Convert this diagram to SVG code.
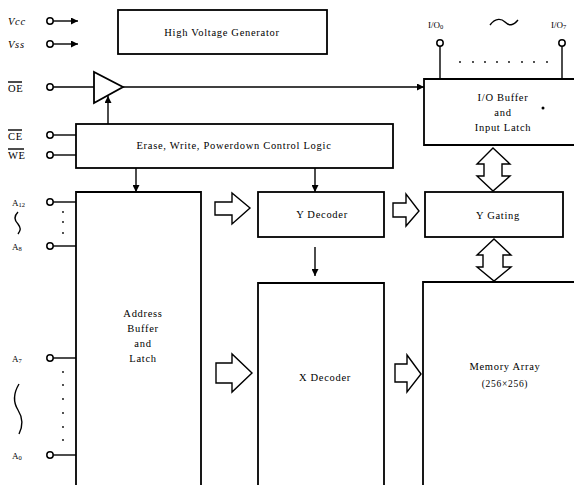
<svg xmlns="http://www.w3.org/2000/svg" width="574" height="485" viewBox="0 0 574 485">
<style>
.b{fill:none;stroke:#000;stroke-width:1.8}
.l{fill:none;stroke:#000;stroke-width:1.4}
.pin{fill:#fff;stroke:#000;stroke-width:1.5}
.t{font-family:"Liberation Serif",serif;font-size:10.5px;letter-spacing:0.7px;fill:#000}
.c{text-anchor:middle}
.it{font-style:italic}
.dot{fill:#000}
.ba{fill:#fff;stroke:#000;stroke-width:1.4;stroke-linejoin:miter}
</style>
<defs>
<marker id="ah" viewBox="0 0 10 10" refX="10" refY="5" markerWidth="7" markerHeight="7" markerUnits="userSpaceOnUse" orient="auto"><path d="M0,0 L10,5 L0,10 z" fill="#000"/></marker>
</defs>
<rect width="574" height="485" fill="#fff"/>

<g id="hvg"><rect class="b" x="118" y="10" width="209" height="44"/><text class="t c" x="222" y="36">High Voltage Generator</text></g>

<g id="ctrl"><rect class="b" x="76" y="124" width="317" height="44"/><text class="t c" x="234" y="149">Erase, Write, Powerdown Control Logic</text></g>

<g id="iobuf"><path class="b" d="M580,79 H424 V145 H580"/>
<text class="t c" x="503" y="101">I/O Buffer</text><text class="t c" x="503" y="116">and</text><text class="t c" x="503" y="131">Input Latch</text>
<circle class="dot" cx="543" cy="108" r="1.5"/></g>

<g id="addr"><path class="b" d="M76,490 V192 H201 V490"/>
<text class="t c" x="143" y="317">Address</text><text class="t c" x="143" y="332">Buffer</text><text class="t c" x="143" y="347">and</text><text class="t c" x="143" y="362">Latch</text></g>

<g id="ydec"><rect class="b" x="258" y="192" width="126" height="45"/><text class="t c" x="322" y="218">Y Decoder</text></g>

<g id="ygate"><rect class="b" x="425" y="192" width="138" height="45"/><text class="t c" x="498" y="219">Y Gating</text></g>

<g id="xdec"><path class="b" d="M258,490 V283 H384 V490"/><text class="t c" x="325" y="381">X Decoder</text></g>

<g id="mem"><path class="b" d="M423,490 V282 H580"/><text class="t c" x="505" y="370">Memory Array</text><text class="t c" x="505" y="387" style="font-size:9.5px">(256×256)</text></g>

<g id="buf"><path class="b" d="M94,72 L94,103 L123,87 Z" fill="#fff"/></g>

<g id="pins">
<text class="t it" x="8" y="25">Vcc</text>
<text class="t it" x="8" y="48">Vss</text>
<text class="t" x="8" y="92">OE</text><line class="l" x1="8" y1="82" x2="22" y2="82" stroke-width="1"/>
<text class="t" x="8" y="140">CE</text><line class="l" x1="8" y1="130" x2="22" y2="130" stroke-width="1"/>
<text class="t" x="8" y="159">WE</text><line class="l" x1="8" y1="149" x2="24" y2="149" stroke-width="1"/>
<text class="t" x="12" y="206" style="font-size:9px;letter-spacing:0">A<tspan font-size="6.5px" dy="1">12</tspan></text>
<text class="t" x="12" y="250" style="font-size:9px;letter-spacing:0">A<tspan font-size="6.5px" dy="1">8</tspan></text>
<text class="t" x="12" y="362" style="font-size:9px;letter-spacing:0">A<tspan font-size="6.5px" dy="1">7</tspan></text>
<text class="t" x="12" y="459" style="font-size:9px;letter-spacing:0">A<tspan font-size="6.5px" dy="1">0</tspan></text>
<text class="t" x="428" y="28" style="font-size:9px;letter-spacing:0">I/O<tspan font-size="6.5px" dy="1">0</tspan></text>
<text class="t" x="551" y="28" style="font-size:9px;letter-spacing:0">I/O<tspan font-size="6.5px" dy="1">7</tspan></text>
<path class="l" d="M18,212 C14,216 14,220 18,224 C21,228 21,230 18,234"/>
<path class="l" d="M19,384 C13,394 13,402 18,410 C23,418 23,426 19,434"/>
<path class="l" d="M490,25 C496,17 502,19 505,22 C509,26 513,26 518,20"/>
<g class="dot">
<circle cx="63" cy="212" r="0.9"/><circle cx="63" cy="222" r="0.9"/><circle cx="63" cy="233" r="0.9"/>
<circle cx="63" cy="372" r="0.9"/><circle cx="63" cy="385" r="0.9"/><circle cx="63" cy="399" r="0.9"/><circle cx="63" cy="413" r="0.9"/><circle cx="63" cy="427" r="0.9"/><circle cx="63" cy="440" r="0.9"/>
<circle cx="460" cy="62" r="0.9"/><circle cx="473" cy="62" r="0.9"/><circle cx="485" cy="62" r="0.9"/><circle cx="497" cy="62" r="0.9"/><circle cx="509" cy="62" r="0.9"/><circle cx="522" cy="62" r="0.9"/><circle cx="534" cy="62" r="0.9"/><circle cx="547" cy="62" r="0.9"/>
</g>
</g>

<g id="connectors">
<line class="l" x1="53" y1="21" x2="78" y2="21" marker-end="url(#ah)"/>
<line class="l" x1="53" y1="44" x2="78" y2="44" marker-end="url(#ah)"/>
<line class="l" x1="53" y1="87" x2="94" y2="87"/>
<line class="l" x1="123" y1="87" x2="424" y2="87" marker-end="url(#ah)"/>
<line class="l" x1="108" y1="124" x2="108" y2="96" marker-end="url(#ah)"/>
<line class="l" x1="53" y1="135" x2="76" y2="135"/>
<line class="l" x1="53" y1="155" x2="76" y2="155"/>
<line class="l" x1="53" y1="202" x2="76" y2="202"/>
<line class="l" x1="53" y1="246" x2="76" y2="246"/>
<line class="l" x1="53" y1="358" x2="76" y2="358"/>
<line class="l" x1="53" y1="455" x2="76" y2="455"/>
<line class="l" x1="440" y1="46" x2="440" y2="79"/>
<line class="l" x1="562" y1="46" x2="562" y2="79"/>
<line class="l" x1="136" y1="168" x2="136" y2="192" marker-end="url(#ah)"/>
<line class="l" x1="315" y1="168" x2="315" y2="192" marker-end="url(#ah)"/>
<line class="l" x1="315" y1="247" x2="315" y2="276" marker-end="url(#ah)"/>
<path class="ba" d="M215,202 H232 V193 L250,208 L232,224 V215 H215 Z"/>
<path class="ba" d="M393,203 H406 V194 L419,211 L406,226 V217 H393 Z"/>
<path class="ba" d="M216,363 H232 V354 L252,373 L232,392 V383 H216 Z"/>
<path class="ba" d="M395,364 H407 V355 L421,374 L407,392 V382 H395 Z"/>
<path class="ba" d="M493,148 L510,164 H502 V176 H510 L493,191 L477,176 H484 V164 H477 Z"/>
<path class="ba" d="M494,239 L511,255 H503 V267 H511 L494,281 L477,267 H483 V255 H477 Z"/>
<circle class="pin" cx="50" cy="21" r="3.2"/>
<circle class="pin" cx="50" cy="44" r="3.2"/>
<circle class="pin" cx="50" cy="87" r="3.2"/>
<circle class="pin" cx="50" cy="135" r="3.2"/>
<circle class="pin" cx="50" cy="155" r="3.2"/>
<circle class="pin" cx="50" cy="202" r="3.2"/>
<circle class="pin" cx="50" cy="246" r="3.2"/>
<circle class="pin" cx="50" cy="358" r="3.2"/>
<circle class="pin" cx="50" cy="455" r="3.2"/>
<circle class="pin" cx="440" cy="43" r="3.2"/>
<circle class="pin" cx="562" cy="43" r="3.2"/>
</g>
</svg>
